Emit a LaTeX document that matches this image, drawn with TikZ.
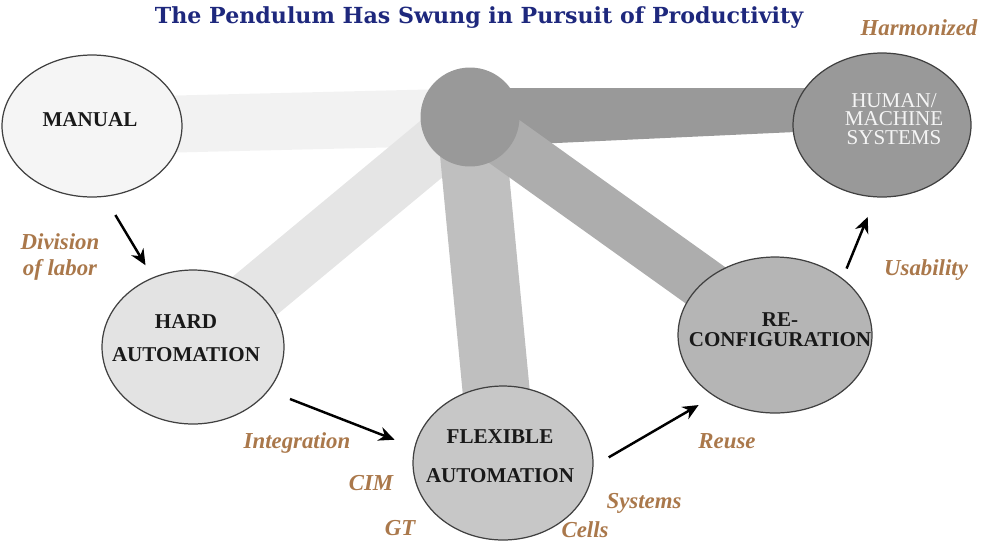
\documentclass[tikz,border=0pt]{standalone}
\usepackage{fontspec}
\setmainfont{Liberation Serif}
\newfontfamily\titlefont{DejaVu Serif}
\usepackage{tikz}
\usetikzlibrary{shapes.geometric,arrows.meta,backgrounds}

\definecolor{titleblue}{RGB}{30,40,125}
\definecolor{labelbrown}{RGB}{170,120,75}
\definecolor{hubgray}{RGB}{153,153,153}

\tikzstyle{stage}=[ellipse, draw=black!75, line width=0.7pt, inner sep=0pt]
\tikzstyle{stagetext}=[text centered, align=center, text=black!90,
        font=\bfseries\fontsize{12}{14}\selectfont]
\tikzstyle{arm}=[line cap=butt]
\tikzstyle{flow}=[-{Stealth[length=9pt,width=8pt]}, line width=1.4pt, black]
\tikzstyle{reason}=[text=labelbrown, align=center,
        font=\bfseries\itshape\fontsize{13}{15}\selectfont]

\begin{document}
\begin{tikzpicture}[x=0.02cm, y=-0.02cm]
        \useasboundingbox (0,0) rectangle (982,542);

        \node (title) at (479,18) [text=titleblue, font=\titlefont\bfseries\fontsize{12.6}{14}\selectfont]
        {The Pendulum Has Swung in Pursuit of Productivity};

        % hub of the pendulum
        \node (hub) [circle, fill=hubgray, minimum size=1.98cm, inner sep=0pt] at (470,117) {};

        % stages
        \node (manual) [stage, fill=black!4, minimum width=3.6cm, minimum height=2.84cm] at (92,126) {};
        \node (hard) [stage, fill=black!11, minimum width=3.64cm, minimum height=3.08cm] at (193,347) {};
        \node (flex) [stage, fill=black!22, minimum width=3.6cm, minimum height=3.08cm] at (503,463) {};
        \node (reconfig) [stage, fill=black!29, minimum width=3.88cm, minimum height=3.12cm] at (775,335) {};
        \node (human) [stage, fill=hubgray, minimum width=3.56cm, minimum height=2.88cm] at (882,125) {};

        \node (manual-t) [stagetext] at (90,120) {MANUAL};
        \node (hard-t) [stagetext, font=\bfseries\fontsize{12}{19}\selectfont] at (186,338) {HARD\\AUTOMATION};
        \node (flex-t) [stagetext, font=\bfseries\fontsize{12}{22}\selectfont] at (500,456) {FLEXIBLE\\AUTOMATION};
        \node (reconfig-t) [stagetext, font=\bfseries\fontsize{12}{11.5}\selectfont] at (780,330) {RE-\\CONFIGURATION};
        \node (human-t) [stagetext, text=black!4, font=\fontsize{12}{10.5}\selectfont] at (894,119) {HUMAN/\\MACHINE\\SYSTEMS};

        % what drove each swing
        \draw[flow, shorten <=12pt, shorten >=8pt] (manual.-80) -- (hard.120);
        \draw[flow, shorten <=13pt, shorten >=12pt] (hard.-30) -- (flex.170);
        \draw[flow, shorten <=10pt, shorten >=10pt] (flex.-2) -- (reconfig.225);
        \draw[flow, shorten <=6pt, shorten >=12pt] (reconfig.40) -- (human.-95);

        \node (division) [reason] at (60,257) {Division\\of labor};
        \node (integration) [reason] at (297,443) {Integration};
        \node (cim) [reason] at (371,483) {CIM};
        \node (gt) [reason] at (400,528) {GT};
        \node (systems) [reason] at (644,503) {Systems};
        \node (cells) [reason] at (585,530) {Cells};
        \node (reuse) [reason] at (727,441) {Reuse};
        \node (usability) [reason] at (926,270) {Usability};
        \node (harmonized) [reason] at (919,28) {Harmonized};

        % arms of the pendulum
        \begin{pgfonlayer}{background}
          \draw[arm, line width=1.14cm, black!5] (hub.center) -- (manual.center);
          \fill[hubgray] ([yshift=0.58cm]hub.center) -- ([yshift=0.74cm]human.center)
            -- ([yshift=-0.06cm]human.center) -- ([yshift=-0.6cm]hub.center) -- cycle;
          \draw[arm, line width=1.15cm, black!10] (hub.center) -- (hard.center);
          \draw[arm, line width=1.34cm, black!25] (hub.center) -- (flex.center);
          \draw[arm, line width=1.05cm, black!32] (hub.center) -- (reconfig.center);
        \end{pgfonlayer}
\end{tikzpicture}
\end{document}
